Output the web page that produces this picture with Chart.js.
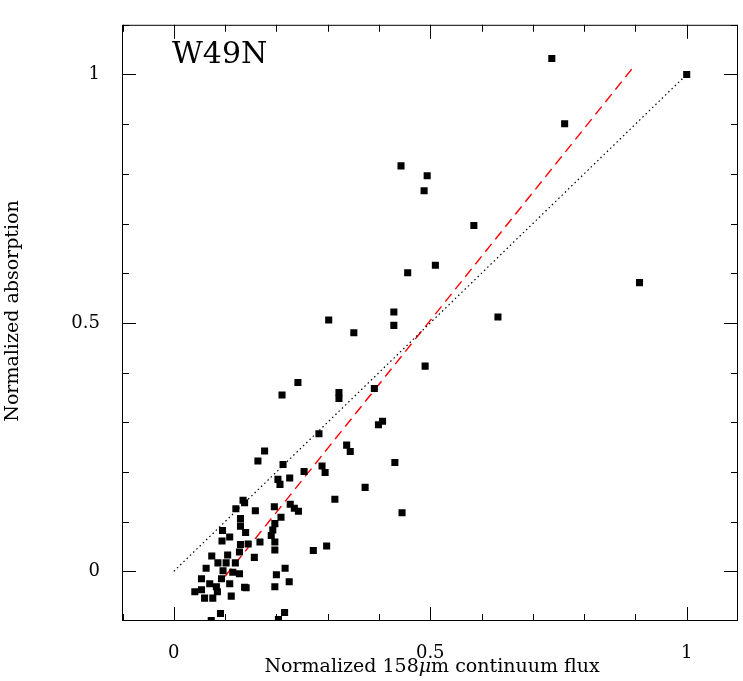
<!DOCTYPE html>
<html>
<head>
<meta charset="utf-8">
<script src="https://cdn.jsdelivr.net/npm/chart.js@4.4.1/dist/chart.umd.min.js"></script>
<style>
  html, body { margin: 0; padding: 0; background: #fff; }
  #wrap { width: 743px; height: 681px; position: relative; }
</style>
</head>
<body>
<div id="wrap"><canvas id="chart"></canvas></div>
<script>
// continuum flux (x) and absorption (y)
const fluxValues = [
  0.737, 1.0, 0.762, 0.443, 0.494, 0.488, 0.585, 0.510, 0.456, 0.908,
  0.302, 0.429, 0.429, 0.632, 0.351, 0.490, 0.242, 0.211, 0.322, 0.322,
  0.391, 0.407, 0.399, 0.283, 0.337, 0.344, 0.431, 0.289, 0.295, 0.373,
  0.314, 0.445, 0.177, 0.164, 0.213, 0.254, 0.203, 0.207, 0.226, 0.135,
  0.121, 0.138, 0.159, 0.196, 0.227, 0.235, 0.243, 0.209, 0.130, 0.130,
  0.197, 0.193, 0.140, 0.095, 0.094, 0.109, 0.190, 0.197, 0.197, 0.168,
  0.130, 0.145, 0.157, 0.272, 0.298, 0.217, 0.200, 0.225, 0.197, 0.141,
  0.091, 0.073, 0.216, 0.204, 0.063, 0.054, 0.054, 0.060, 0.076, 0.112,
  0.086, 0.102, 0.115, 0.093, 0.083, 0.109, 0.128, 0.096, 0.070, 0.128,
  0.138, 0.105, 0.074, 0.120, 0.041, 0.085
]
const absorptionValues = [
  1.032, 1.0, 0.901, 0.816, 0.796, 0.766, 0.696, 0.616, 0.601, 0.581,
  0.506, 0.522, 0.495, 0.512, 0.480, 0.413, 0.380, 0.355, 0.360, 0.348,
  0.368, 0.302, 0.295, 0.277, 0.254, 0.241, 0.219, 0.212, 0.199, 0.169,
  0.145, 0.118, 0.242, 0.222, 0.215, 0.201, 0.185, 0.175, 0.188, 0.143,
  0.126, 0.138, 0.122, 0.130, 0.135, 0.127, 0.121, 0.109, 0.106, 0.091,
  0.096, 0.083, 0.078, 0.082, 0.061, 0.069, 0.072, 0.059, 0.043, 0.059,
  0.054, 0.055, 0.028, 0.042, 0.051, 0.006, -0.007, -0.021, -0.031, -0.033,
  -0.085, -0.099, -0.083, -0.097, 0.006, -0.015, -0.037, -0.054, -0.054, -0.050,
  0.017, 0.017, -0.002, -0.015, -0.031, -0.025, -0.005, 0.001, -0.025, 0.039,
  -0.032, 0.033, 0.031, 0.017, -0.041, -0.041
]
const oneToOneLine = [{ x: 0, y: 0 }, { x: 1, y: 1 }]
const fitLine = [{ x: 0.1, y: -0.01 }, { x: 0.9, y: 1.02 }]
const tickLabels = { 0: '0', 0.5: '0.5', 1: '1' }

const points = fluxValues.map((x, i) => ({ x: x, y: absorptionValues[i] }))
const serif = '"DejaVu Serif", "Liberation Serif", serif'

// frame ticks on all four sides, major every 0.5, minor every 0.1
const frameTicks = {
  id: 'frameTicks',
  afterDraw(chart) {
    const { ctx, chartArea: a, scales } = chart
    ctx.save()
    ctx.strokeStyle = '#000'
    ctx.lineWidth = 1
    ctx.strokeRect(a.left + 0.5, a.top + 0.5, a.right - a.left - 1, a.bottom - a.top - 1)
    for (let i = -1; i <= 11; i++) {
      const v = i / 10
      const len = i % 5 === 0 ? 14 : 7
      const px = Math.round(scales.x.getPixelForValue(v)) + 0.5
      if (px > a.left && px < a.right) {
        ctx.beginPath()
        ctx.moveTo(px, a.bottom); ctx.lineTo(px, a.bottom - len)
        ctx.moveTo(px, a.top); ctx.lineTo(px, a.top + len)
        ctx.stroke()
      }
      const py = Math.round(scales.y.getPixelForValue(v)) + 0.5
      if (py > a.top && py < a.bottom) {
        ctx.beginPath()
        ctx.moveTo(a.left, py); ctx.lineTo(a.left + len, py)
        ctx.moveTo(a.right, py); ctx.lineTo(a.right - len, py)
        ctx.stroke()
      }
    }
    // labels
    ctx.fillStyle = '#000'
    ctx.font = '30px ' + serif
    ctx.textAlign = 'left'
    ctx.textBaseline = 'alphabetic'
    ctx.fillText('W49N', 172, 63)

    ctx.font = '19px ' + serif
    const parts = [['Normalized 158', ''], ['μ', 'italic '], ['m continuum flux', '']]
    let total = 0
    parts.forEach(p => { ctx.font = p[1] + '19px ' + serif; total += ctx.measureText(p[0]).width })
    let x = 432 - total / 2
    parts.forEach(p => {
      ctx.font = p[1] + '19px ' + serif
      ctx.fillText(p[0], x, 672)
      x += ctx.measureText(p[0]).width
    })

    ctx.font = '19px ' + serif
    ctx.translate(18, 311)
    ctx.rotate(-Math.PI / 2)
    ctx.textAlign = 'center'
    ctx.fillText('Normalized absorption', 0, 0)
    ctx.restore()
  }
}

new Chart(document.getElementById('chart'), {
  type: 'scatter',
  data: {
    datasets: [
      {
        data: points,
        pointStyle: 'rect',
        pointRadius: 5,
        backgroundColor: '#000',
        borderColor: '#000',
        borderWidth: 0
      },
      {
        type: 'line',
        data: oneToOneLine,
        borderColor: '#000',
        borderWidth: 1.2,
        borderDash: [1.5, 3],
        pointRadius: 0,
        fill: false
      },
      {
        type: 'line',
        data: fitLine,
        borderColor: '#ff0000',
        borderWidth: 1.4,
        borderDash: [10, 6],
        pointRadius: 0,
        fill: false
      }
    ]
  },
  options: {
    responsive: true,
    maintainAspectRatio: false,
    animation: false,
    layout: { padding: { top: 1, right: 2, left: 0, bottom: 0 } },
    plugins: { legend: { display: false }, tooltip: { enabled: false } },
    scales: {
      x: {
        type: 'linear',
        min: -0.101,
        max: 1.1,
        grid: { display: false },
        border: { display: false },
        afterFit: s => { s.height = 60 },
        afterBuildTicks: s => { s.ticks = [0, 0.5, 1].map(v => ({ value: v })) },
        ticks: {
          color: '#000',
          font: { family: serif, size: 18 },
          padding: 14,
          maxRotation: 0,
          callback: v => tickLabels[v] ?? ''
        }
      },
      y: {
        type: 'linear',
        min: -0.1,
        max: 1.1,
        grid: { display: false },
        border: { display: false },
        afterFit: s => { s.width = 122 },
        afterBuildTicks: s => { s.ticks = [0, 0.5, 1].map(v => ({ value: v })) },
        ticks: {
          color: '#000',
          font: { family: serif, size: 18 },
          padding: 14,
          callback: v => tickLabels[v] ?? ''
        }
      }
    }
  },
  plugins: [frameTicks]
})
</script>
</body>
</html>
